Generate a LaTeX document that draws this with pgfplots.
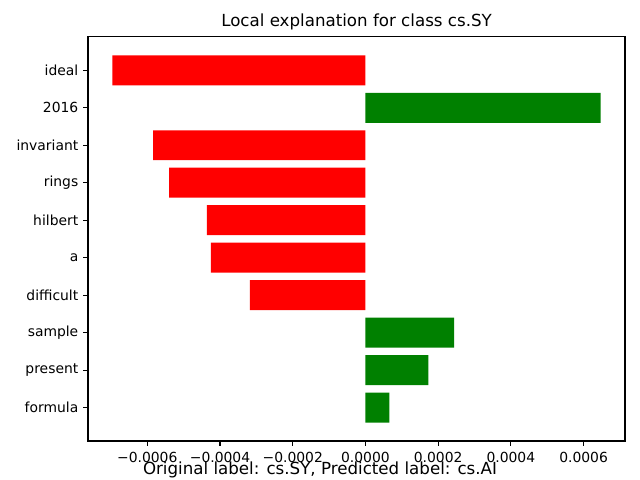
\documentclass[border=0pt]{standalone}
\usepackage{fontspec}
\setmainfont{DejaVu Sans}
\usepackage{pgfplots}
\pgfplotsset{compat=1.18}
\begin{document}
\begin{tikzpicture}
\path[use as bounding box] (0,0) rectangle (460.8pt,345.6pt);
\begin{axis}[
  at={(63.4pt,28.1pt)}, anchor=south west,
  scale only axis, width=386.6pt, height=290.9pt,
  xmin=-0.000763, xmax=0.000714,
  ymin=-0.89, ymax=9.89,
  xbar, bar width=0.8, bar shift=0pt,
  axis line style={line width=0.8pt},
  tick align=outside, xtick pos=bottom, ytick pos=left,
  major tick length=3.5pt,
  tick style={black, line width=0.8pt},
  scaled x ticks=false,
  xtick={-0.0006,-0.0004,-0.0002,0,0.0002,0.0004,0.0006},
  xticklabels={−0.0006,−0.0004,−0.0002,0.0000,0.0002,0.0004,0.0006},
  ytick={0,1,2,3,4,5,6,7,8,9},
  yticklabels={formula,present,sample,difficult,a,hilbert,rings,invariant,2016,ideal},
  ticklabel style={font=\fontsize{10}{12}\selectfont},
  xticklabel style={yshift=-1pt},
  title={Local explanation for class cs.SY},
  title style={font=\fontsize{12}{14}\selectfont, yshift=-4.5pt},
]
\addplot[fill=red, draw=none] coordinates {
  (-0.000696,9) (-0.000584,7) (-0.000540,6) (-0.000436,5) (-0.000425,4) (-0.000318,3)
};
\addplot[fill={rgb,255:red,0;green,128;blue,0}, draw=none] coordinates {
  (0.000647,8) (0.000244,2) (0.000173,1) (0.0000658,0)
};
\end{axis}
\node[font=\fontsize{12}{14}\selectfont] at (230.4pt,7.2pt) {Original label: cs.SY, Predicted label: cs.AI};
\end{tikzpicture}
\end{document}
